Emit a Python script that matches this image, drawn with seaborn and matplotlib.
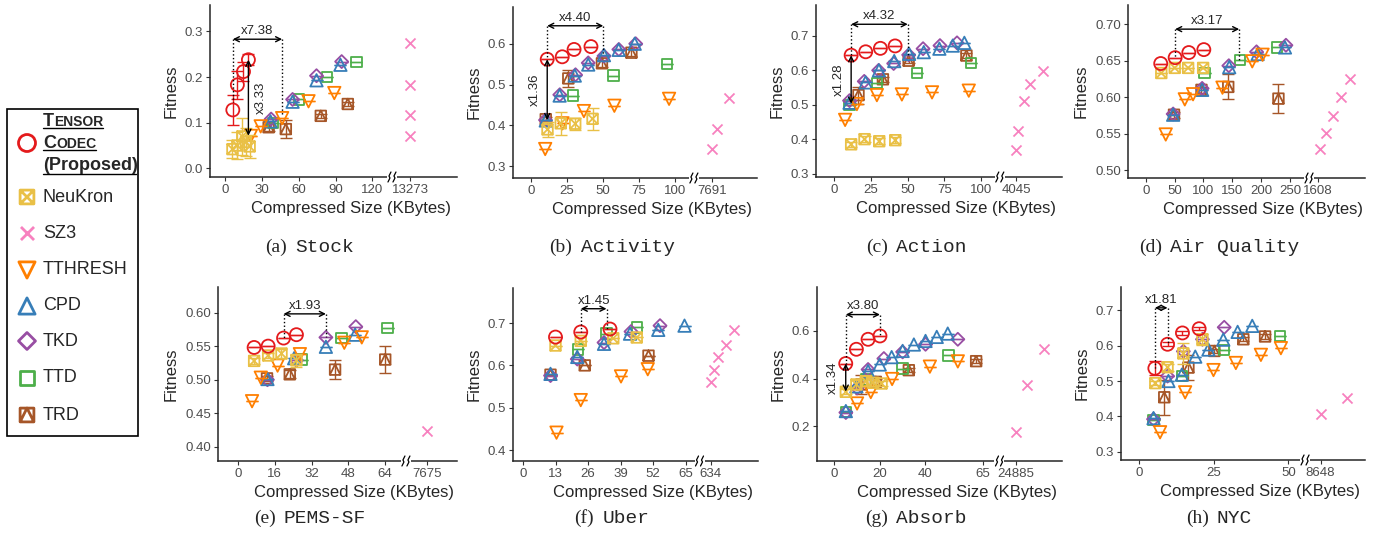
import numpy as np
import matplotlib
matplotlib.use('Agg')
import matplotlib.pyplot as plt
from matplotlib.path import Path
from matplotlib.patches import Rectangle
from matplotlib.offsetbox import TextArea, HPacker, AnnotationBbox
import seaborn as sns

sns.set_style('ticks')
plt.rcParams['font.family'] = ['Liberation Sans', 'DejaVu Sans']

# ---- data: method -> (compressed size KB, fitness, error) ----
stock = {
    'TRD': ([35.5, 49.5, 78, 100], [0.09, 0.086, 0.115, 0.141], [0.008, 0.02, 0.005, 0.005]),
    'TTD': ([39, 60, 83, 107], [0.1, 0.151, 0.2, 0.233], None),
    'TKD': ([37.5, 55, 74.5, 95], [0.108, 0.151, 0.203, 0.234], None),
    'CPD': ([37, 55, 74.5, 94], [0.103, 0.146, 0.193, 0.227], None),
    'TTHRESH': ([21, 29, 46.5, 68, 89], [0.071, 0.092, 0.11, 0.147, 0.165], None),
    'SZ3': ([13273, 13273, 13273, 13273], [0.275, 0.183, 0.117, 0.071], None),
    'NeuKron': ([6, 10, 14, 17, 20], [0.042, 0.05, 0.07, 0.058, 0.048], [0.02, 0.03, 0.04, 0.03, 0.025]),
    'TensorCodec': ([6.3, 10, 15, 19], [0.128, 0.183, 0.212, 0.238], [0.033, 0.03, 0.02, 0.012]),
}
activity = {
    'TRD': ([10.4, 26, 49.3, 69.7], [0.415, 0.515, 0.552, 0.578], [0.005, 0.02, 0.008, 0.008]),
    'TTD': ([29.4, 57.2, 94.2], [0.473, 0.522, 0.55], None),
    'TKD': ([10.2, 20.1, 31, 39.8, 50.7, 61, 72.7], [0.413, 0.475, 0.524, 0.553, 0.57, 0.586, 0.6], None),
    'CPD': ([10.4, 20, 30.5, 39.8, 50.7, 60.9, 72], [0.412, 0.473, 0.522, 0.549, 0.572, 0.585, 0.6], None),
    'TTHRESH': ([10, 22, 36.8, 57.9, 95.8], [0.342, 0.405, 0.435, 0.448, 0.465], None),
    'SZ3': ([7691, 8060, 8860], [0.342, 0.392, 0.467], None),
    'NeuKron': ([11.6, 20.8, 30.8, 42.8], [0.39, 0.405, 0.404, 0.416], [0.018, 0.028, 0.015, 0.027]),
    'TensorCodec': ([11.4, 21.8, 30, 41.7], [0.562, 0.568, 0.586, 0.593], None),
}
action = {
    'TRD': ([16.6, 33.2, 50.7, 90], [0.528, 0.574, 0.628, 0.643], [0.025, 0.008, 0.008, 0.008]),
    'TTD': ([10.5, 29.1, 56.4, 93.2], [0.5, 0.564, 0.593, 0.622], None),
    'TKD': ([10.5, 20.5, 30.3, 40.5, 50.7, 60.5, 72, 83.6], [0.512, 0.568, 0.6, 0.62, 0.645, 0.663, 0.672, 0.68], None),
    'CPD': ([10.5, 21.4, 30.5, 40.9, 51, 61, 71.6, 80.7, 88.6], [0.506, 0.565, 0.6, 0.627, 0.648, 0.653, 0.663, 0.672, 0.68], None),
    'TTHRESH': ([7.5, 15.5, 29.1, 46.1, 66.6, 91.6], [0.456, 0.502, 0.528, 0.53, 0.536, 0.541], None),
    'SZ3': ([4045, 4175, 4565, 4975, 5885], [0.369, 0.425, 0.51, 0.56, 0.597], None),
    'NeuKron': ([11.6, 20.7, 30.7, 41.6], [0.385, 0.4, 0.394, 0.397], [0.008, 0.008, 0.008, 0.008]),
    'TensorCodec': ([11.6, 21.5, 31.5, 41.5], [0.644, 0.654, 0.664, 0.671], None),
}
air_quality = {
    'TRD': ([49, 96.6, 143, 230], [0.576, 0.61, 0.614, 0.598], [0.004, 0.004, 0.017, 0.02]),
    'TTD': ([102, 163, 227], [0.633, 0.651, 0.668], None),
    'TKD': ([47.5, 97.8, 144, 192, 243], [0.577, 0.612, 0.643, 0.662, 0.671], None),
    'CPD': ([47.5, 97.8, 144.7, 193.9, 241.3], [0.576, 0.61, 0.641, 0.659, 0.668], None),
    'TTHRESH': ([34.7, 67.7, 82, 133, 184.6, 202.5], [0.549, 0.597, 0.604, 0.613, 0.649, 0.658], None),
    'SZ3': ([1612, 1622, 1634, 1648, 1664], [0.529, 0.551, 0.574, 0.6, 0.625], None),
    'NeuKron': ([27, 50.3, 73.5, 99.5], [0.633, 0.64, 0.64, 0.64], None),
    'TensorCodec': ([26, 51, 74.7, 100.7], [0.646, 0.654, 0.661, 0.665], None),
}
pems_sf = {
    'TRD': ([12.6, 22.5, 42.2, 64], [0.502, 0.508, 0.515, 0.53], [0.004, 0.006, 0.014, 0.02]),
    'TTD': ([27.6, 45, 65], [0.53, 0.562, 0.577], None),
    'TKD': ([12.8, 25.4, 38.2, 51.2], [0.5, 0.529, 0.563, 0.579], None),
    'CPD': ([12.8, 24.4, 38.2, 50.9], [0.501, 0.532, 0.549, 0.567], None),
    'TTHRESH': ([6.1, 9.9, 17.2, 26.9, 46.2, 53.8], [0.468, 0.503, 0.521, 0.538, 0.555, 0.563], None),
    'SZ3': ([7675], [0.423], None),
    'NeuKron': ([7, 13.1, 18.9, 25.4], [0.528, 0.536, 0.539, 0.529], [0.004, 0.004, 0.006, 0.01]),
    'TensorCodec': ([7, 13.1, 19.8, 25.4], [0.548, 0.55, 0.562, 0.567], None),
}
uber = {
    'TRD': ([11, 24.7, 50.2], [0.578, 0.6, 0.623], None),
    'TTD': ([22.1, 33.4, 45.5], [0.638, 0.675, 0.69], None),
    'TKD': ([11, 21.7, 32.4, 43.2, 54.8], [0.576, 0.615, 0.654, 0.68, 0.694], None),
    'CPD': ([11, 21.7, 32.4, 42.8, 54.1, 64.6], [0.58, 0.62, 0.651, 0.675, 0.684, 0.694], None),
    'TTHRESH': ([13.4, 23.1, 39.2, 49.9], [0.441, 0.518, 0.574, 0.591], None),
    'SZ3': ([634, 635.3, 637, 640, 643.1], [0.56, 0.59, 0.62, 0.649, 0.683], None),
    'NeuKron': ([13, 23.1, 36.1, 45.5], [0.647, 0.658, 0.664, 0.666], None),
    'TensorCodec': ([13, 23.1, 34.8], [0.667, 0.679, 0.686], None),
}
absorb = {
    'TRD': ([12.1, 18.4, 32.8, 62.2], [0.375, 0.386, 0.435, 0.473], [0.04, 0.01, 0.008, 0.008]),
    'TTD': ([5.3, 14, 30.1, 50.2], [0.258, 0.396, 0.442, 0.497], None),
    'TKD': ([5.3, 10.2, 15, 21.9, 30.1, 40.1, 54.2], [0.257, 0.36, 0.438, 0.484, 0.512, 0.544, 0.565], None),
    'CPD': ([5.3, 9.9, 15, 20.1, 25.3, 30.1, 35, 40.1, 45, 49.8],
            [0.263, 0.367, 0.431, 0.459, 0.49, 0.516, 0.543, 0.558, 0.575, 0.589], None),
    'TTHRESH': ([10.2, 16.2, 25.5, 42, 54.2], [0.295, 0.343, 0.398, 0.45, 0.472], None),
    'SZ3': ([24885, 25355, 26125], [0.173, 0.372, 0.523], None),
    'NeuKron': ([5.3, 9.9, 14, 17.2, 20.9], [0.344, 0.375, 0.389, 0.382, 0.379], [0.01, 0.02, 0.02, 0.015, 0.01]),
    'TensorCodec': ([5.25, 9.9, 15, 20.2], [0.463, 0.523, 0.565, 0.579], None),
}
nyc = {
    'TRD': ([8.4, 16.5, 25.2, 34.9, 42.2], [0.454, 0.538, 0.585, 0.618, 0.626], [0.05, 0.035, 0.006, 0.006, 0.006]),
    'TTD': ([4.8, 14.3, 28.5, 47.2], [0.39, 0.514, 0.588, 0.628], None),
    'TKD': ([4.8, 9.5, 14.8, 21.2, 28.5], [0.392, 0.514, 0.584, 0.618, 0.652], None),
    'CPD': ([4.8, 9.8, 14.3, 18.8, 23.2, 28.2, 33, 37.9], [0.395, 0.5, 0.518, 0.569, 0.589, 0.617, 0.639, 0.656], None),
    'TTHRESH': ([7, 15.4, 24.9, 32.4, 40.8, 47.5], [0.355, 0.468, 0.531, 0.551, 0.574, 0.593], None),
    'SZ3': ([8648, 9545], [0.407, 0.453], None),
    'NeuKron': ([5.4, 9.5, 14.8, 21.2], [0.494, 0.539, 0.578, 0.618], [0.006, 0.01, 0.03, 0.015]),
    'TensorCodec': ([5.25, 9.5, 14.5, 20.1], [0.536, 0.604, 0.636, 0.648], [0.02, 0.005, 0.005, 0.005]),
}

# speed-up annotations: (x_from, x_to, y, y_end_from, y_end_to, label) / (x, y_top, y_bottom, label, side)
h_arrows = {
    'Stock': (6.3, 46.5, 0.283, 0.145, 0.117, 'x7.38'),
    'Activity': (11.4, 50.2, 0.644, 0.562, 0.572, 'x4.40'),
    'Action': (11.6, 50.1, 0.734, 0.644, 0.645, 'x4.32'),
    'Air Quality': (51, 162, 0.693, 0.654, 0.651, 'x3.17'),
    'PEMS-SF': (19.8, 38.2, 0.598, 0.562, 0.563, 'x1.93'),
    'Uber': (23.1, 33.4, 0.734, 0.679, 0.686, 'x1.45'),
    'Absorb': (5.25, 20.2, 0.669, 0.463, 0.579, 'x3.80'),
    'NYC': (5.25, 9.5, 0.707, 0.536, 0.604, 'x1.81'),
}
v_arrows = {
    'Stock': (19, 0.238, 0.0715, 'x3.33', 1),
    'Activity': (11.4, 0.562, 0.413, 'x1.36', -1),
    'Action': (11.6, 0.644, 0.503, 'x1.28', -1),
    'Absorb': (5.25, 0.463, 0.345, 'x1.34', -1),
}

colors = {'TensorCodec': '#E41A1C', 'NeuKron': '#E9C046', 'SZ3': '#F781BF', 'TTHRESH': '#FF7F00',
          'CPD': '#377EB8', 'TKD': '#984EA3', 'TTD': '#4DAF4A', 'TRD': '#A65628'}

sq = [(-1, -1), (-1, 1), (1, 1), (1, -1), (-1, -1)]
sq_codes = [Path.MOVETO, Path.LINETO, Path.LINETO, Path.LINETO, Path.CLOSEPOLY]
SQX = Path(sq + [(-1, -1), (1, 1), (-1, 1), (1, -1)],
           sq_codes + [Path.MOVETO, Path.LINETO, Path.MOVETO, Path.LINETO])
SQT = Path(sq + [(-1, -1), (0, 1), (1, -1)], sq_codes + [Path.MOVETO, Path.LINETO, Path.LINETO])
markers = {'TensorCodec': ('o', 88), 'NeuKron': (SQX, 58), 'SZ3': ('x', 52), 'TTHRESH': ('v', 80),
           'CPD': ('^', 80), 'TKD': ('D', 44), 'TTD': ('s', 56), 'TRD': (SQT, 58)}

panels = [
    ('(a)', 'Stock', stock, (210, 457, 5, 177), dict(lo=-12.3, cut=136, s0=13273, gap=14.7, k=0.01, hi=189,
     ticks=[0, 30, 60, 90, 120], ylim=(-0.019, 0.358), yticks=[0, 0.1, 0.2, 0.3], fmt='%.1f'), (310, 247)),
    ('(b)', 'Activity', activity, (513, 757, 7, 178), dict(lo=-12.3, cut=113, s0=7691, gap=12.5, k=0.01, hi=156.7,
     ticks=[0, 25, 50, 75, 100], ylim=(0.271, 0.69), yticks=[0.3, 0.4, 0.5, 0.6], fmt='%.1f'), (612, 247)),
    ('(c)', 'Action', action, (816, 1062, 5, 177), dict(lo=-12.3, cut=112.7, s0=4045, gap=11, k=0.01, hi=155,
     ticks=[0, 25, 50, 75, 100], ylim=(0.29, 0.79), yticks=[0.3, 0.4, 0.5, 0.6, 0.7], fmt='%.1f'), (916, 247)),
    ('(d)', 'Air Quality', air_quality, (1128, 1365, 5, 178), dict(lo=-30.7, cut=283, s0=1608, gap=15, k=1, hi=380,
     ticks=[0, 50, 100, 150, 200, 250], ylim=(0.4895, 0.726), yticks=[0.5, 0.55, 0.6, 0.65, 0.7], fmt='%.2f'), (1219, 247)),
    ('(e)', 'PEMS-SF', pems_sf, (218, 457, 287, 461), dict(lo=-8.7, cut=73, s0=7675, gap=9.1, k=0.01, hi=95.2,
     ticks=[0, 16, 32, 48, 64], ylim=(0.379, 0.638), yticks=[0.4, 0.45, 0.5, 0.55, 0.6], fmt='%.2f'), (310, 518)),
    ('(f)', 'Uber', uber, (513, 758, 288, 461), dict(lo=-4, cut=70.6, s0=634, gap=4.5, k=1, hi=94,
     ticks=[0, 13, 26, 39, 52, 65], ylim=(0.374, 0.783), yticks=[0.4, 0.5, 0.6, 0.7], fmt='%.1f'), (612, 518)),
    ('(g)', 'Absorb', absorb, (817, 1062, 287, 461), dict(lo=-7.3, cut=72.4, s0=24885, gap=7.2, k=0.01, hi=99.7,
     ticks=[0, 20, 40, 65], ylim=(0.053, 0.785), yticks=[0.2, 0.4, 0.6], fmt='%.1f'), (916, 518)),
    ('(h)', 'NYC', nyc, (1121, 1365, 287, 460), dict(lo=-6.1, cut=55.6, s0=8648, gap=5.2, k=0.01, hi=75.7,
     ticks=[0, 25, 50], ylim=(0.2765, 0.766), yticks=[0.3, 0.4, 0.5, 0.6, 0.7], fmt='%.1f'), (1219, 518)),
]

W, H = 1376, 540


def broken_scale(cut, s0, gap, k):
    def fwd(x):
        x = np.asarray(x, dtype=float)
        mid = cut + gap * (x - cut) / (s0 - cut)
        far = cut + gap + (x - s0) * k
        return np.where(x <= cut, x, np.where(x < s0, mid, far))

    def inv(y):
        y = np.asarray(y, dtype=float)
        mid = cut + (y - cut) * (s0 - cut) / gap
        far = s0 + (y - cut - gap) / k
        return np.where(y <= cut, y, np.where(y < cut + gap, mid, far))
    return fwd, inv


fig = plt.figure(figsize=(W / 100, H / 100), dpi=100)

for tag, name, data, (l, r, t, b), cfg, (cx, cy) in panels:
    wpx, hpx = r - l, b - t
    ax = fig.add_axes([l / W, 1 - b / H, wpx / W, hpx / H])
    fwd, inv = broken_scale(cfg['cut'], cfg['s0'], cfg['gap'], cfg['k'])
    ax.set_xscale('function', functions=(fwd, inv))

    for z, (method, (xs, ys, err)) in enumerate(data.items()):
        c = colors[method]
        m, s = markers[method]
        if method != 'SZ3':
            yerr = np.zeros(len(ys)) if err is None else np.array(err)
            ax.errorbar(xs, ys, yerr=yerr, fmt='none', ecolor=c, elinewidth=1.0, capsize=4, capthick=1.0,
                        zorder=2 + z * 0.1)
            sns.scatterplot(x=xs, y=ys, ax=ax, marker=m, s=s, facecolor='none', edgecolor=c,
                            linewidth=1.3, zorder=2.05 + z * 0.1)
        else:
            sns.scatterplot(x=xs, y=ys, ax=ax, marker=m, s=s, color=c, linewidth=1.3, zorder=2.05 + z * 0.1)

    # speed-up annotations
    x0, x1, y, e0, e1, lab = h_arrows[name]
    ax.plot([x0, x0], [y, e0], ls=':', color='black', lw=1, zorder=5)
    ax.plot([x1, x1], [y, e1], ls=':', color='black', lw=1, zorder=5)
    ax.annotate('', xy=(x1, y), xytext=(x0, y),
                arrowprops=dict(arrowstyle='<->', lw=1, color='black', shrinkA=0, shrinkB=0, mutation_scale=9))
    ax.annotate(lab, xy=((x0 + x1) / 2, y), xytext=(0, 1.5), textcoords='offset points',
                ha='center', va='bottom', fontsize=9.5)
    if name in v_arrows:
        vx, vy0, vy1, vlab, side = v_arrows[name]
        ax.annotate('', xy=(vx, vy1), xytext=(vx, vy0),
                    arrowprops=dict(arrowstyle='<->', lw=1, color='black', shrinkA=0, shrinkB=0, mutation_scale=9))
        ax.annotate(vlab, xy=(vx, (vy0 + vy1) / 2), xytext=(side * 9, 0), textcoords='offset points',
                    rotation=90, ha='center', va='center', fontsize=9.5)

    ax.set_xlim(cfg['lo'], float(inv(cfg['hi'])))
    ax.set_ylim(*cfg['ylim'])
    ax.set_xticks(cfg['ticks'] + [cfg['s0']])
    ax.set_xticklabels([str(v) for v in cfg['ticks']] + [str(cfg['s0'])])
    ax.set_yticks(cfg['yticks'])
    ax.set_yticklabels([cfg['fmt'] % v for v in cfg['yticks']])
    ax.minorticks_off()
    sns.despine(ax=ax)
    for sp in ('left', 'bottom'):
        ax.spines[sp].set_linewidth(1.1)
    ax.tick_params(labelsize=9.5, labelcolor='#4D4D4D', length=3, width=0.8, pad=2, color='#333333')
    ax.set_xlabel('Compressed Size (KBytes)', fontsize=12)
    ax.set_ylabel('Fitness', fontsize=12)
    ax.xaxis.set_label_coords(0.57, -24 / hpx)
    ax.yaxis.set_label_coords(-(31 if cfg['fmt'] == '%.1f' else 39) / wpx, 0.5)

    # axis break mark
    frac = (cfg['cut'] - cfg['lo']) / (cfg['hi'] - cfg['lo'])
    ax.add_patch(Rectangle((frac - 5 / wpx, -4 / hpx), 10 / wpx, 8 / hpx, transform=ax.transAxes,
                           facecolor='white', edgecolor='none', clip_on=False, zorder=6))
    for off in (-2.5, 2.5):
        ax.plot(frac + (off + np.array([-1.5, 0.5, -0.5, 1.5])) / wpx, np.array([-5, -1, 1, 5]) / hpx,
                transform=ax.transAxes, color='black', lw=0.9, clip_on=False, zorder=7)

    # caption
    box = HPacker(children=[TextArea(tag, textprops=dict(family='Liberation Serif', size=14)),
                            TextArea(name, textprops=dict(family='Liberation Mono', size=14))],
                  align='baseline', pad=0, sep=6)
    fig.add_artist(AnnotationBbox(box, (cx / W, 1 - cy / H), xycoords='figure fraction',
                                  frameon=False, box_alignment=(0.5, 0.5)))

# ---- legend (drawn by hand to mimic the ggplot key) ----
lg = fig.add_axes([0, 0, 1, 1], zorder=-1)
lg.set_xlim(0, W)
lg.set_ylim(H, 0)
lg.axis('off')
lg.add_patch(Rectangle((7, 109), 131, 327, facecolor='none', edgecolor='black', lw=1.2))

legend_rows = [('TensorCodec', 143), ('NeuKron', 197), ('SZ3', 233), ('TTHRESH', 270),
               ('CPD', 306), ('TKD', 341), ('TTD', 378), ('TRD', 415)]
for method, yy in legend_rows:
    m, s = markers[method]
    c = colors[method]
    if method == 'SZ3':
        lg.scatter([27], [yy], marker=m, s=s * 1.7, color=c, linewidth=2)
    else:
        lg.scatter([27], [yy], marker=m, s=s * 1.7, facecolor='none', edgecolor=c, linewidth=2)
    if method != 'TensorCodec':
        lg.text(43, yy, method, fontsize=13, va='center', ha='left')

bold = dict(weight='bold')
for big, small, yy, x_end in [('T', 'ENSOR', 121, 103), ('C', 'ODEC', 143, 96)]:
    box = HPacker(children=[TextArea(big, textprops=dict(size=13, **bold)),
                            TextArea(small, textprops=dict(size=10, **bold))],
                  align='baseline', pad=0, sep=0)
    lg.add_artist(AnnotationBbox(box, (43, yy), xycoords='data', frameon=False, box_alignment=(0, 0.5)))
    lg.plot([43, x_end], [yy + 7, yy + 7], color='black', lw=1)
lg.text(43, 166, '(Proposed)', fontsize=13, weight='bold', va='center', ha='left')
lg.plot([43, 136], [174, 174], color='black', lw=1)

fig.savefig('out.png', dpi=100)
